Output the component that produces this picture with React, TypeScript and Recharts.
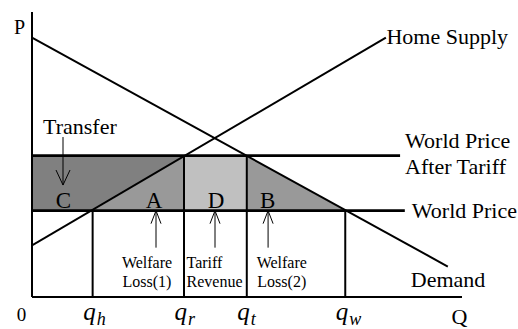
import React from 'react';
import {
  ComposedChart, Area, Line, XAxis, YAxis, ReferenceLine, ReferenceDot,
} from 'recharts';

const FONT = '"Liberation Serif", "Times New Roman", serif';

// ── Values (Q and P both run 0..100) ─────────────────────────────────────────
const axisMax = 100;
const qSubscripts = ['h', 'r', 't', 'w'];
const qValues = [14.1, 35.35, 49.95, 72.85]; // q_h, q_r, q_t, q_w
const prices = [30.3, 49.6]; // world price, world price after tariff
const priceLineEnds = [86.7, 85.6]; // where each price line stops
const demandQ = [0, 96.7];
const demandP = [91, 10.7];
const supplyQ = [0, 82.3];
const supplyP = [18.1, 91];
const regionNames = ['C', 'A', 'D', 'B'];
const regionFills = ['#808080', '#999999', '#c0c0c0', '#999999'];

const [qh, qr, qt, qw] = qValues;
const [pw, pt] = prices;

const xTicks = [0, ...qValues, axisMax];

// one table, sorted by q; each shaded region is a range area [low, high]
const table = [
  { q: 0, demand: demandP[0], supply: supplyP[0], C: [pw, pt] },
  { q: qh, C: [pw, pt], A: [pw, pw] },
  { q: qr, C: [pt, pt], A: [pw, pt], D: [pw, pt] },
  { q: qt, D: [pw, pt], B: [pw, pt] },
  { q: qw, B: [pw, pw] },
  { q: supplyQ[1], supply: supplyP[1] },
  { q: demandQ[1], demand: demandP[1] },
].sort((a, b) => a.q - b.q);

function XTick(props: any) {
  const { x, y, index } = props;
  if (index === 0) {
    return <text x={x - 10.5} y={y + 24} textAnchor="middle" fontSize={19} fontFamily={FONT} fill="#000">0</text>;
  }
  if (index === xTicks.length - 1) {
    return <text x={x - 2.5} y={y + 27} textAnchor="middle" fontSize={22} fontFamily={FONT} fill="#000">Q</text>;
  }
  return (
    <text x={x - 9.5} y={y + 23} textAnchor="start" fontFamily={FONT} fill="#000" fontStyle="italic">
      <tspan fontSize={25}>q</tspan>
      <tspan fontSize={18} dx={1} dy={5}>{qSubscripts[index - 1]}</tspan>
    </text>
  );
}

// text pinned to a data point, shifted by a few pixels
function note(key: string, x: number, y: number, dx: number, dy: number, lines: string[], size = 22, anchor = 'start', gap = 19) {
  return (
    <ReferenceDot
      key={key}
      x={x}
      y={y}
      r={0}
      shape={(p: any) => (
        <text x={p.cx + dx} y={p.cy + dy} textAnchor={anchor} fontSize={size} fontFamily={FONT} fill="#000">
          {lines.map((s, i) => (
            <tspan key={i} x={p.cx + dx} dy={i === 0 ? 0 : gap}>{s}</tspan>
          ))}
        </text>
      )}
    />
  );
}

// thin arrow with open head, tip at the data point
function arrow(key: string, x: number, y: number, dx: number, dy: number, len: number, dir: 1 | -1) {
  return (
    <ReferenceDot
      key={key}
      x={x}
      y={y}
      r={0}
      shape={(p: any) => {
        const tx = p.cx + dx;
        const ty = p.cy + dy;
        const hw = dir === 1 ? 5 : 7;
        const hl = dir === 1 ? 13 : 15;
        return (
          <path
            d={`M${tx},${ty} L${tx},${ty + dir * len} M${tx - hw},${ty + dir * hl} L${tx},${ty} L${tx + hw},${ty + dir * hl}`}
            stroke="#000"
            strokeWidth={1}
            fill="none"
          />
        );
      }}
    />
  );
}

export default function App() {
  const black = { stroke: '#000', strokeWidth: 2 };
  return (
    <div style={{ position: 'absolute', left: 0, top: 0, width: 518, height: 329, background: '#fff' }}>
      <ComposedChart width={518} height={329} data={table} margin={{ top: 12, right: 56, bottom: 0, left: 0 }}>
        <XAxis
          dataKey="q"
          type="number"
          domain={[0, axisMax]}
          ticks={xTicks}
          interval={0}
          tickLine={false}
          tickSize={0}
          tickMargin={0}
          height={32}
          axisLine={black}
          tick={<XTick />}
          allowDataOverflow
        />
        <YAxis type="number" domain={[0, axisMax]} width={32} tick={false} tickLine={false} axisLine={black} allowDataOverflow />

        {regionNames.map((name, i) => (
          <Area
            key={name}
            dataKey={name}
            type="linear"
            stroke="none"
            fill={regionFills[i]}
            fillOpacity={1}
            connectNulls={false}
            dot={false}
            activeDot={false}
            isAnimationActive={false}
          />
        ))}

        <ReferenceLine segment={[{ x: 0, y: pt }, { x: priceLineEnds[1], y: pt }]} stroke="#000" strokeWidth={2.6} />
        <ReferenceLine segment={[{ x: 0, y: pw }, { x: priceLineEnds[0], y: pw }]} stroke="#000" strokeWidth={2.6} />
        <ReferenceLine segment={[{ x: qh, y: 0 }, { x: qh, y: pw }]} stroke="#000" strokeWidth={2} />
        <ReferenceLine segment={[{ x: qr, y: 0 }, { x: qr, y: pt }]} stroke="#000" strokeWidth={2} />
        <ReferenceLine segment={[{ x: qt, y: 0 }, { x: qt, y: pt }]} stroke="#000" strokeWidth={2} />
        <ReferenceLine segment={[{ x: qw, y: 0 }, { x: qw, y: pw }]} stroke="#000" strokeWidth={2} />

        <Line dataKey="demand" type="linear" stroke="#000" strokeWidth={2} dot={false} activeDot={false} connectNulls isAnimationActive={false} />
        <Line dataKey="supply" type="linear" stroke="#000" strokeWidth={2} dot={false} activeDot={false} connectNulls isAnimationActive={false} />

        {note('p', 0, axisMax, -12.5, 22, ['P'], 20, 'middle')}
        {note('home', supplyQ[1], supplyP[1], 0.5, 6, ['Home Supply'])}
        {note('wpt', priceLineEnds[1], pt, 5, -7.5, ['World Price', 'After Tariff'], 22, 'start', 26)}
        {note('wp', priceLineEnds[0], pw, 7, 7, ['World Price'])}
        {note('dem', demandQ[1], demandP[1], -37, 20.5, ['Demand'])}
        {note('tr', 0, pt, 11, -22, ['Transfer'])}

        {note('C', 0, pw, 31.5, -2.5, ['C'], 23, 'middle')}
        {note('A', qr, pw, -30, -2.5, ['A'], 23, 'middle')}
        {note('D', qr, pw, 32, -2.5, ['D'], 23, 'middle')}
        {note('B', qt, pw, 21, -2.5, ['B'], 23, 'middle')}

        {note('wl1', qr, 0, -37, -29, ['Welfare', 'Loss(1)'], 16, 'middle')}
        {note('rev', qr, 0, 2.5, -29, ['Tariff', 'Revenue'], 16, 'start')}
        {note('wl2', qt, 0, 35, -29, ['Welfare', 'Loss(2)'], 16, 'middle')}

        {arrow('arT', 0, pt, 31, 29.4, 48, -1)}
        {arrow('arA', qr, pw, -28, 0, 37, 1)}
        {arrow('arD', qr, pw, 31, 0, 37, 1)}
        {arrow('arB', qt, pw, 21.3, 0, 37, 1)}
      </ComposedChart>
    </div>
  );
}
